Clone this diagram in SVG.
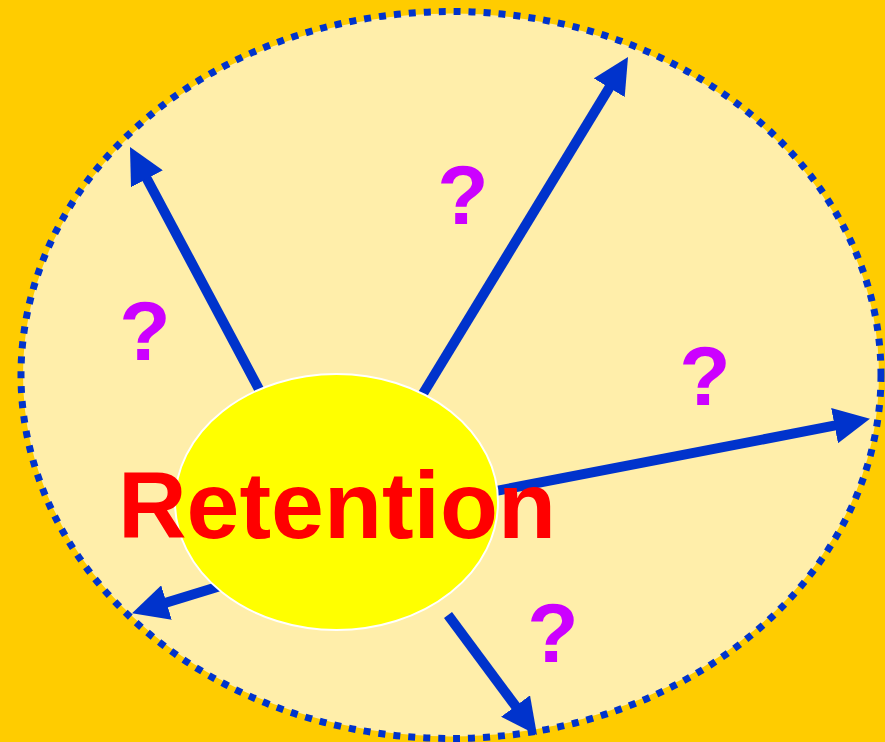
<svg xmlns="http://www.w3.org/2000/svg" width="885" height="742" viewBox="0 0 885 742">
<style>
.arrow{stroke:#0033CC;stroke-width:10;fill:none;marker-end:url(#head)}
.q{font-family:"Liberation Sans",Arial,sans-serif;font-weight:bold;font-size:84px;fill:#CC00FF;text-anchor:middle}
</style>
<defs>
<marker id="head" markerUnits="userSpaceOnUse" markerWidth="36" markerHeight="36" refX="10" refY="18" orient="auto" viewBox="0 0 36 36">
<path d="M0,0 L36,18 L0,36 z" fill="#0033CC"/>
</marker>
</defs>
<rect width="885" height="742" fill="#FFCC00"/>
<g id="outer">
<ellipse cx="451" cy="375" rx="430" ry="363.5" fill="#FFEEAA" stroke="#FFCC00" stroke-width="4"/>
<ellipse cx="451" cy="375" rx="430" ry="363.5" fill="none" stroke="#0033CC" stroke-width="7" stroke-dasharray="7 8"/>
</g>
<g id="connectors">
<line class="arrow" x1="270" y1="410" x2="142.2" y2="170"/>
<line class="arrow" x1="410" y1="415" x2="614.5" y2="79.2"/>
<line class="arrow" x1="470" y1="496" x2="844.4" y2="423.7"/>
<line class="arrow" x1="240" y1="580" x2="156.9" y2="605.5"/>
<line class="arrow" x1="448" y1="615" x2="521.5" y2="714.1"/>
</g>
<g id="retention">
<ellipse cx="336.5" cy="502" rx="161.5" ry="128" fill="#FFFF00" stroke="#FFFFFF" stroke-width="2"/>
<text x="337" y="538" font-family="'Liberation Sans',Arial,sans-serif" font-weight="bold" font-size="95" fill="#FF0000" text-anchor="middle">Retention</text>
</g>
<g id="q1"><text class="q" x="463" y="224">?</text></g>
<g id="q2"><text class="q" x="145" y="360">?</text></g>
<g id="q3"><text class="q" x="705" y="405">?</text></g>
<g id="q4"><text class="q" x="553" y="662">?</text></g>
</svg>
